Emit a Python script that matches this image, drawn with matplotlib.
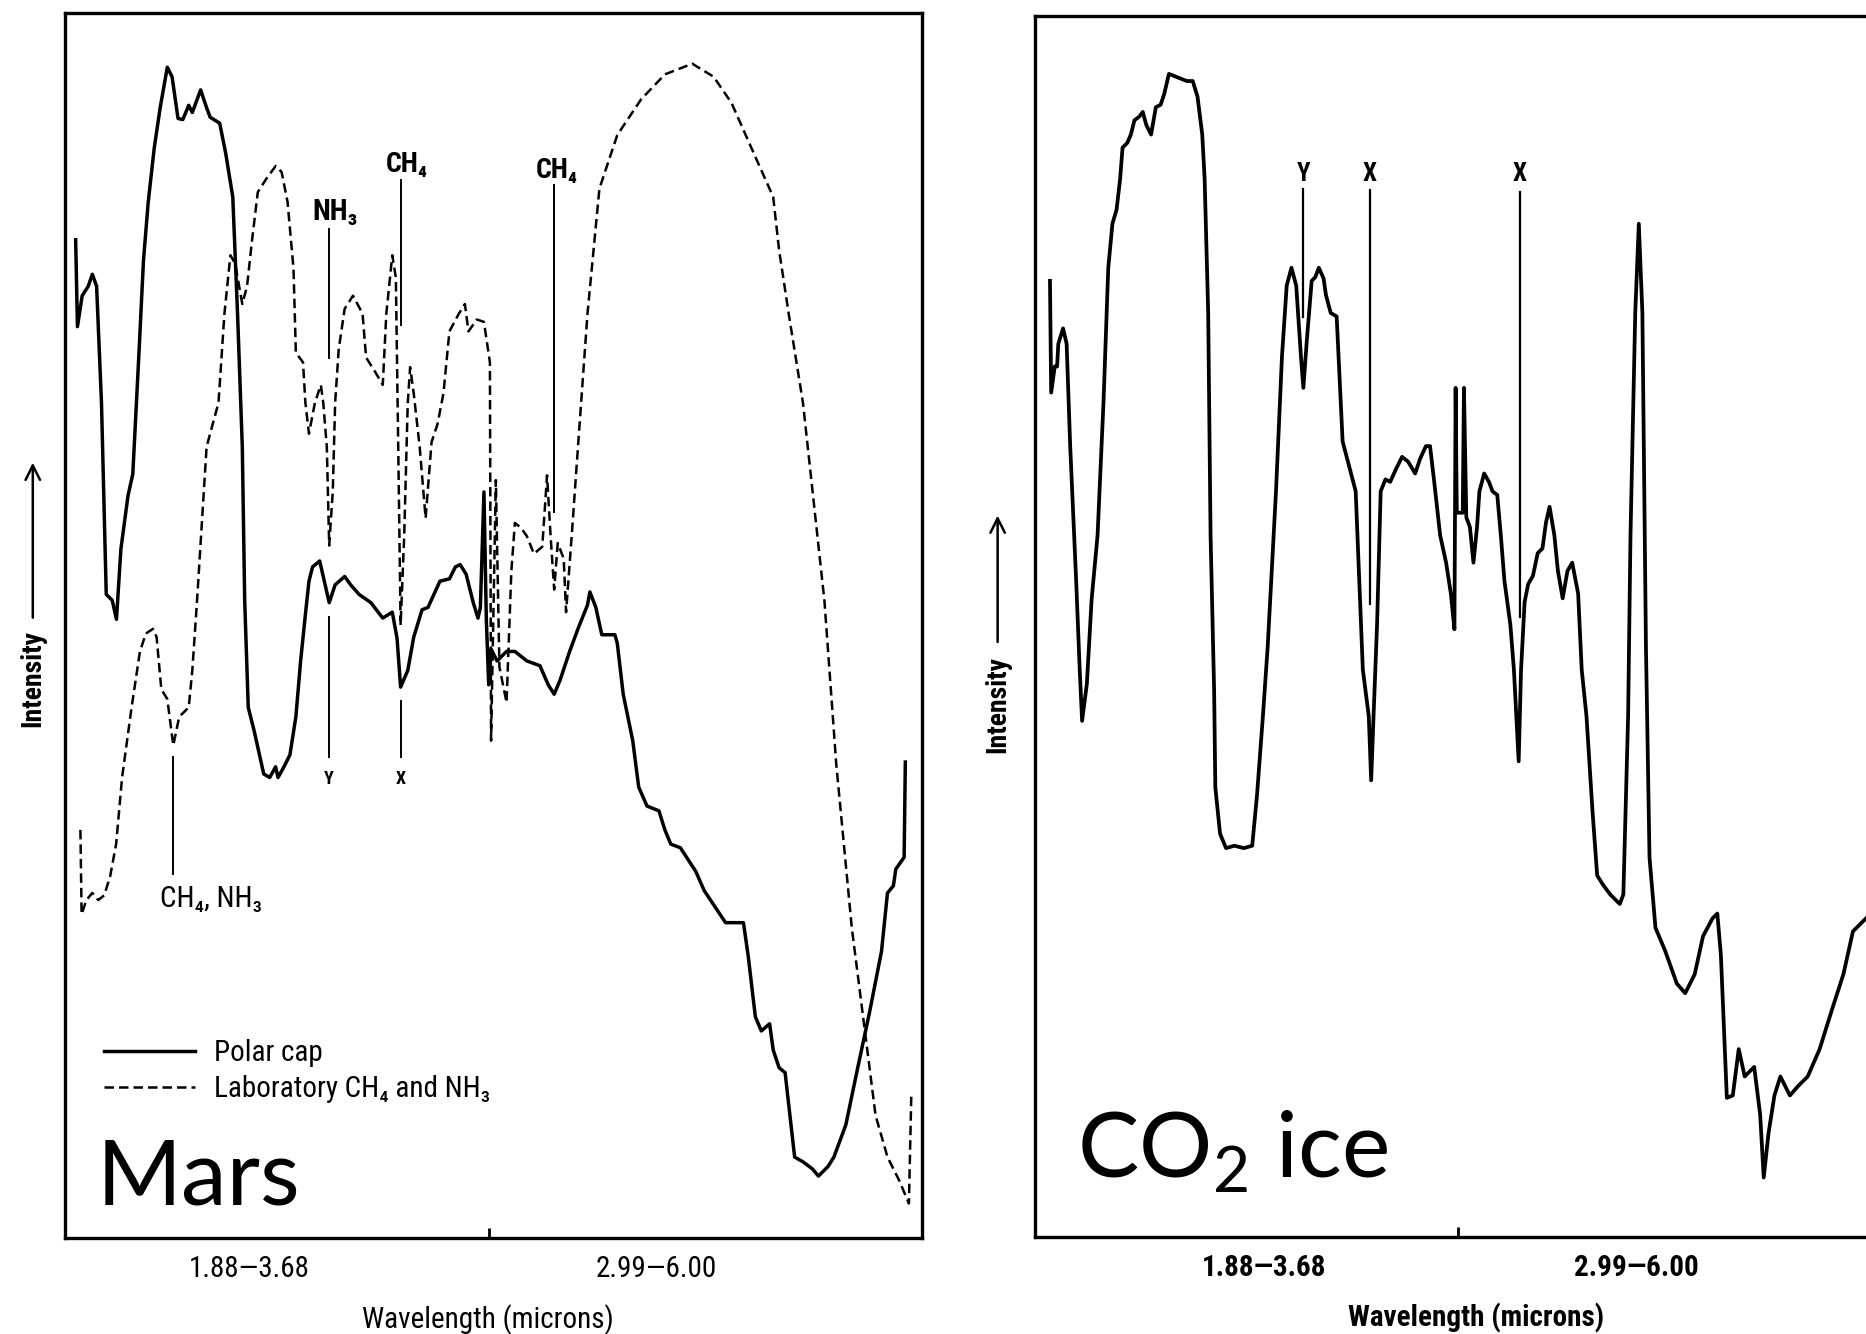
import matplotlib
matplotlib.use('Agg')
from matplotlib import pyplot as plt
from matplotlib import font_manager

# intensity is in arbitrary units, wavelength as position along each trace
plt.rcParams['mathtext.fontset'] = 'custom'
plt.rcParams['mathtext.rm'] = 'Lato'
BIG = ['Lato', 'DejaVu Sans']


def pick_condensed():
    # first narrow face that is really installed
    for name in ['Liberation Sans Narrow', 'Roboto Condensed', 'Open Sans Condensed']:
        try:
            font_manager.findfont(name, fallback_to_default=False)
            return [name, 'DejaVu Sans'], 'normal'
        except ValueError:
            pass
    f = font_manager.findfont(font_manager.FontProperties(family='DejaVu Sans', stretch='condensed'))
    if 'Condensed' in f:
        return ['DejaVu Sans'], 'condensed'
    return ['Roboto', 'DejaVu Sans'], 'normal'


COND, STRETCH = pick_condensed()

#--------------------------------------------------------------------------------
# Mars polar cap spectrum (solid)
polar_x = [9, 10.5, 14.5, 19.6, 23, 26.6, 30.7, 34.7, 39.7, 43.3, 47, 53, 57, 62, 66, 70, 75, 80, 86, 90,
           95, 99, 104, 107, 114, 119, 122, 130, 135, 141, 145, 149, 151, 154, 159, 167, 172, 177, 179, 184,
           189, 194, 198, 202, 205, 208, 214, 217, 222, 227, 235, 240, 247, 257, 267, 275, 279, 282, 288, 293,
           300, 305, 315, 323, 328, 332, 337, 343, 347, 349, 352, 354, 356, 358, 363, 371, 378, 388, 399, 406,
           411, 416, 424, 431, 439, 441, 446, 451, 462, 464, 469, 477, 482, 489, 499, 504, 509, 517, 530, 537,
           545, 555, 570, 574, 580, 585, 592, 595, 600, 605, 613, 620, 628, 633, 641, 646, 656, 666, 676, 686,
           691, 696, 698, 705, 706]
polar_y = [839, 766, 792, 800, 810, 800, 702, 541, 536, 520, 579, 624, 642, 740, 822, 871, 916, 950, 984, 976,
           941, 940, 952, 946, 965, 950, 942, 937, 912, 875, 777, 665, 536, 446, 426, 390, 387, 396, 387, 396,
           406, 438, 485, 524, 552, 564, 569, 556, 534, 549, 556, 549, 541, 534, 521, 526, 504, 463, 477, 505,
           528, 530, 552, 554, 564, 566, 558, 534, 521, 530, 627, 520, 465, 495, 485, 493, 493, 485, 481, 465,
           457, 469, 493, 512, 532, 543, 530, 507, 507, 500, 457, 418, 379, 363, 359, 343, 331, 328, 308, 292,
           280, 265, 265, 237, 186, 174, 180, 158, 143, 139, 68, 64, 58, 52, 60, 68, 95, 143, 190, 241,
           290, 296, 310, 320, 400]

# laboratory CH4 + NH3 spectrum (dashed)
lab_x = [13, 14, 18, 23, 28, 33, 38, 43, 48, 56, 63, 68, 74, 77, 81, 86, 91, 96, 104, 107,
         111, 119, 129, 134, 139, 143, 149, 153, 157, 162, 169, 177, 182, 187, 192, 194, 200, 202, 205, 210,
         215, 217, 220, 222, 225, 227, 230, 235, 242, 250, 253, 260, 267, 270, 275, 278, 280, 282, 285, 288,
         290, 293, 298, 303, 308, 313, 318, 323, 331, 336, 339, 346, 352, 357, 358, 362, 365, 371, 375, 378,
         383, 388, 394, 401, 405, 408, 411, 414, 419, 421, 426, 431, 439, 449, 464, 484, 504, 527, 545, 560,
         575, 595, 600, 608, 620, 638, 648, 661, 671, 681, 691, 701, 709, 711]
lab_y = [343, 272, 284, 290, 284, 288, 304, 331, 387, 446, 493, 508, 512, 505, 461, 453, 414, 438, 446, 477,
         536, 665, 702, 777, 826, 819, 785, 800, 837, 879, 890, 901, 896, 871, 815, 744, 736, 702, 676, 702,
         717, 702, 665, 582, 627, 702, 747, 781, 792, 777, 740, 729, 717, 777, 826, 807, 665, 515, 590, 702,
         732, 710, 665, 605, 669, 684, 710, 762, 777, 785, 762, 772, 770, 736, 418, 637, 480, 450, 560, 601,
         597, 590, 575, 581, 641, 590, 545, 584, 571, 526, 594, 665, 777, 882, 927, 957, 978, 987, 976, 954,
         920, 875, 830, 777, 702, 536, 398, 261, 182, 103, 68, 48, 29, 119]

# CO2 ice spectrum (solid)
ice_x = [13, 14, 17, 19, 20, 24, 27, 30, 35, 38, 40, 44, 48, 53, 58, 62, 65.5, 69, 72, 74,
         78, 81, 84, 88, 91, 94, 98, 102, 106, 109, 113, 118, 123, 128, 133, 137, 141, 143, 146, 148,
         151, 152, 156, 161, 168, 176, 183, 187, 192, 196, 203, 208, 212, 216, 220, 224, 226, 229, 233, 236,
         239, 243, 245, 249, 254, 259, 264, 270, 273, 276, 281, 283, 285, 288, 291, 295, 299, 304, 309, 314,
         320, 324, 329, 332.5, 336, 341, 346, 350, 353, 354, 355, 360, 361, 363, 366, 369, 372, 374, 378, 382,
         385, 389, 392, 395, 400, 403, 407, 409, 412, 415, 419, 423, 427, 430, 433, 437, 440, 444, 448, 452,
         457, 460, 464, 469, 473, 478, 484, 492, 495, 499, 501, 505, 508, 511, 513, 514, 517, 522, 530, 540,
         547, 555, 562, 570, 574, 577, 582, 587, 592, 597, 605, 610, 613, 617, 622, 627, 635, 642, 650, 660,
         670, 680, 688, 695, 699]
ice_y = [804, 710, 732, 732, 751, 764, 751, 665, 552, 477, 434, 465, 536, 590, 702, 815, 852, 864, 890, 916,
         920, 927, 939, 942, 946, 935, 927, 950, 952, 961, 978, 976, 974, 972, 972, 959, 927, 890, 777, 590,
         459, 378, 339, 327, 329, 327, 329, 371, 438, 496, 627, 740, 800, 815, 800, 740, 714, 755, 804, 807,
         815, 806, 792, 777, 774, 669, 650, 627, 552, 477, 438, 384, 438, 516, 627, 637, 635, 646, 656, 652,
         642, 654, 665, 665, 635, 590, 567, 541, 511, 714, 609, 609, 714, 605, 597, 567, 597, 627, 642, 635,
         627, 624, 590, 552, 515, 477, 400, 477, 534, 549, 556, 575, 579, 601, 614, 590, 560, 537, 560, 567,
         541, 477, 438, 359, 304, 296, 288, 280, 288, 438, 590, 777, 852, 777, 590, 496, 319, 260, 241, 213,
         205, 221, 253, 268, 272, 237, 117, 119, 158, 135, 143, 103, 50, 87, 119, 135, 119, 127, 135, 158,
         190, 221, 257, 264, 268]

# band markers: (x, y_top, y_bottom)
mars_marks = [(222, 848, 740), (282, 889, 767), (411, 885, 610), (222, 522, 404), (282, 451, 404), (91, 404, 306)]
ice_marks = [(226, 881, 774), (282, 880, 532), (408, 879, 521)]
ice_letters = ['Y', 'X', 'X']
ice_letter_x = [226, 282, 408]

tick_labels = ['1.88\u20143.68', '2.99\u20146.00']
mars_tick_x = [155, 497]
ice_tick_x = [193, 506]

#--------------------------------------------------------------------------------
fig = plt.figure(figsize=(18.66, 13.34), dpi=100)
axL = fig.add_axes([0.0348, 0.0720, 0.4593, 0.9186])
axR = fig.add_axes([0.5544, 0.0727, 0.4539, 0.9156])

def ctext(ax, x, y, s, size, bold=False, **kw):
    return ax.text(x, y, s, family=COND, fontstretch=STRETCH, fontsize=size,
                   fontweight='bold' if bold else 'normal', **kw)

def frame(ax, xmax, ymax, tick_x, bold):
    ax.set_xlim(0, xmax)
    ax.set_ylim(0, ymax)
    for s in ax.spines.values():
        s.set_linewidth(2.4)
    ax.set_yticks([])
    ax.set_xticks(tick_x)
    ax.set_xticklabels(tick_labels, family=COND, fontstretch=STRETCH, fontsize=21,
                       fontweight='bold' if bold else 'normal')
    ax.tick_params(axis='x', which='major', length=0, pad=12)
    ax.set_xticks([356], minor=True)
    ax.tick_params(axis='x', which='minor', direction='in', length=7, width=2)
    ax.set_xlabel('Wavelength (microns)', family=COND, fontstretch=STRETCH, fontsize=21,
                  fontweight='bold' if bold else 'normal')

# ---- left: Mars
frame(axL, 720, 1030, mars_tick_x, False)
axL.xaxis.set_label_coords(0.494, -0.054)
l1, = axL.plot(polar_x, polar_y, '-k', lw=2.5, solid_joinstyle='round')
l2, = axL.plot(lab_x, lab_y, color='k', lw=1.8, linestyle=(0, (3.8, 2)))
for x, y0, y1 in mars_marks:
    axL.plot([x, x], [y0, y1], '-k', lw=1.4)
ctext(axL, 227, 862, 'NH\u2083', 21, True, ha='center', va='center')
ctext(axL, 287, 902, 'CH\u2084', 20, True, ha='center', va='center')
ctext(axL, 413, 897, 'CH\u2084', 20, True, ha='center', va='center')
ctext(axL, 222, 386, 'Y', 13, True, ha='center', va='center')
ctext(axL, 282, 386, 'X', 13, True, ha='center', va='center')
ctext(axL, 123, 285, 'CH\u2084, NH\u2083', 21, ha='center', va='center')
axL.legend([l1, l2], ['Polar cap', 'Laboratory CH\u2084 and NH\u2083'], loc='upper left',
           bbox_to_anchor=(0.046, 0.162), frameon=False, borderpad=0, borderaxespad=0,
           handlelength=3.1, handletextpad=0.65, labelspacing=0.25,
           prop=font_manager.FontProperties(family=COND, stretch=STRETCH, size=21))
axL.text(27, 28, 'Mars', family=BIG, fontsize=66, ha='left', va='baseline')
axL.annotate('', xy=(-27, 654), xytext=(-27, 519), annotation_clip=False,
             arrowprops=dict(arrowstyle='->', lw=1.8, mutation_scale=26, color='k'))
ctext(axL, -27, 470, 'Intensity', 20, True, rotation=90, ha='center', va='center', clip_on=False)

# ---- right: CO2 ice
frame(axR, 712, 1027, ice_tick_x, True)
axR.xaxis.set_label_coords(0.521, -0.054)
axR.plot(ice_x, ice_y, '-k', lw=2.7, solid_joinstyle='round')
for x, y0, y1 in ice_marks:
    axR.plot([x, x], [y0, y1], '-k', lw=1.6)
for x, t in zip(ice_letter_x, ice_letters):
    ctext(axR, x, 894, t, 18, True, ha='center', va='center')
axR.text(36, 50, 'CO$_2$ ice', family=BIG, fontsize=66, ha='left', va='baseline')
axR.annotate('', xy=(-31, 609), xytext=(-31, 498), annotation_clip=False,
             arrowprops=dict(arrowstyle='->', lw=1.8, mutation_scale=26, color='k'))
ctext(axR, -31, 448, 'Intensity', 20, True, rotation=90, ha='center', va='center', clip_on=False)

plt.savefig('out.png', dpi=100)
#--------------------------------------------------------------------------------
